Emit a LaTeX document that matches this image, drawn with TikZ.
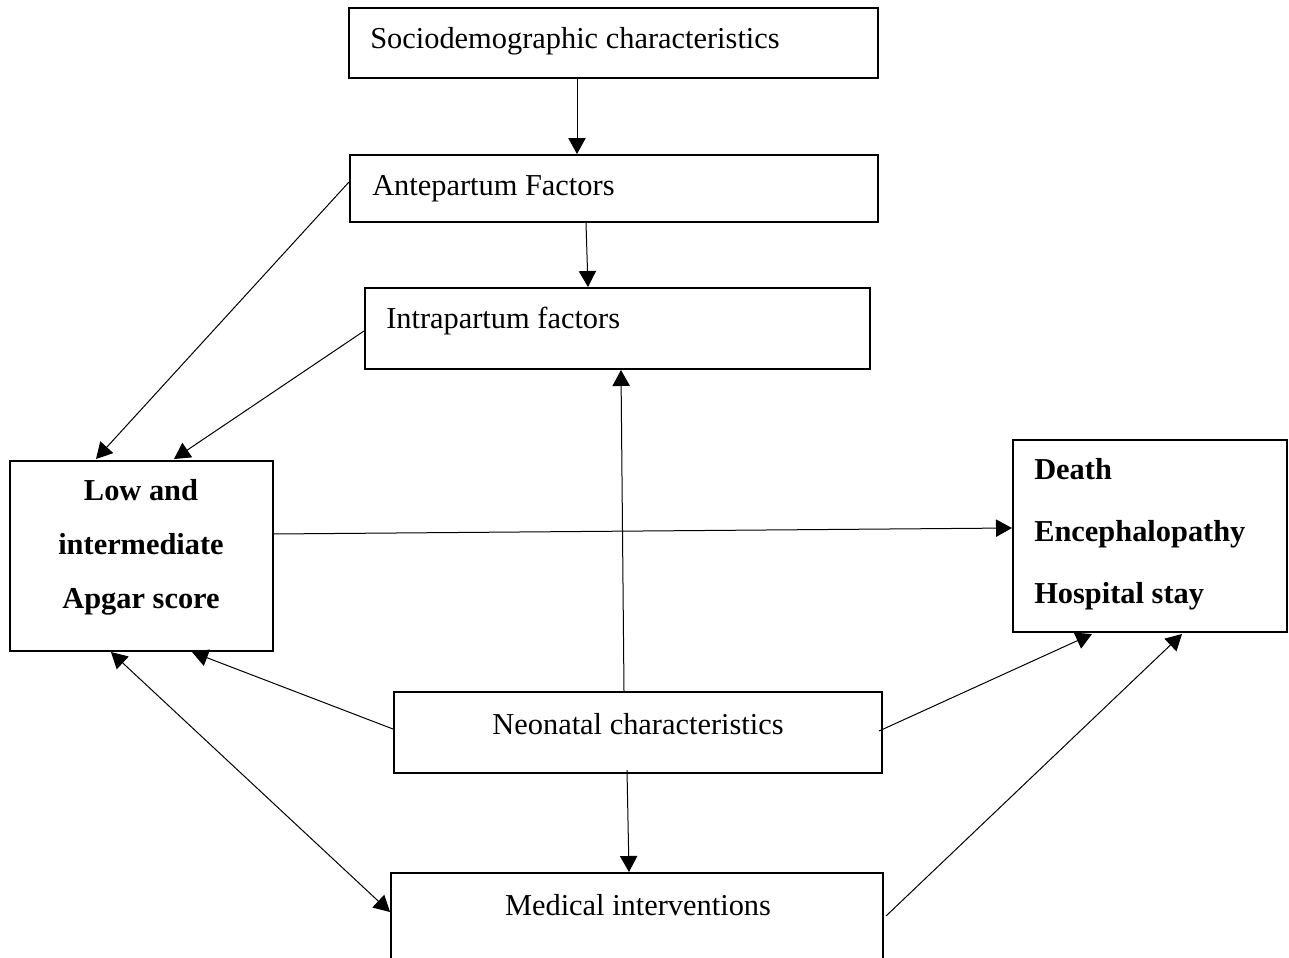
\documentclass[tikz,border=0pt]{standalone}
\usepackage{fontspec}
\setmainfont{Liberation Serif}
\usetikzlibrary{arrows.meta,calc,fit}
\begin{document}
\begin{tikzpicture}[x=0.75pt,y=-0.75pt,
  box/.style={draw,line width=1.5pt,inner sep=0pt},
  lbl/.style={inner sep=0pt,font=\fontsize{22.8}{27}\selectfont},
  conn/.style={line width=0.75pt,-{Triangle[length=12pt,width=13pt]}},
  dconn/.style={line width=0.75pt,{Triangle[length=12pt,width=13pt]}-{Triangle[length=12pt,width=13pt]}}]
\useasboundingbox (0,0) rectangle (1289,957);
% box corners
\coordinate (s1) at (349,8);   \coordinate (s2) at (878,78);
\coordinate (a1) at (350,155); \coordinate (a2) at (878,222);
\coordinate (i1) at (365,288); \coordinate (i2) at (870,369);
\coordinate (p1) at (10,461);  \coordinate (p2) at (273,651);
\coordinate (d1) at (1013,440);\coordinate (d2) at (1287,632);
\coordinate (n1) at (394,692); \coordinate (n2) at (882,773);
\coordinate (m1) at (391,873); \coordinate (m2) at (883,965);
\node[box,fit=(s1)(s2)] (socio) {};
\node[box,fit=(a1)(a2)] (ante) {};
\node[box,fit=(i1)(i2)] (intra) {};
\node[box,fit=(p1)(p2)] (apgar) {};
\node[box,fit=(d1)(d2)] (death) {};
\node[box,fit=(n1)(n2)] (neo) {};
\node[box,fit=(m1)(m2)] (med) {};
% texts
\node[lbl,anchor=west] (tsocio) at (370,41) {Sociodemographic characteristics};
\node[lbl,anchor=west] (tante) at (372,189) {Antepartum Factors};
\node[lbl,anchor=west] (tintra) at (386,321) {Intrapartum factors};
\node[lbl,align=center,font=\fontsize{22.8}{40.5}\selectfont\bfseries] (tapgar) at (141,547) {Low and\\intermediate\\Apgar score};
\node[lbl,align=left,anchor=west,font=\fontsize{22.8}{46.5}\selectfont\bfseries] (tdeath) at (1034,534) {Death\\Encephalopathy\\Hospital stay};
\node[lbl] (tneo) at (638,724) {Neonatal characteristics};
\node[lbl] (tmed) at (638,905) {Medical interventions};
% connectors
\draw[conn] ($(socio.south west)+(229,0)$) -- ($(ante.north west)+(228,0)$);
\draw[conn] ($(ante.south west)+(237,0)$) -- ($(intra.north west)+(224,0)$);
\draw[conn] ($(ante.north west)+(0,28)$) -- ($(apgar.north west)+(87,-1)$);
\draw[conn] ($(intra.north west)+(0,44)$) -- ($(apgar.north west)+(165,-1)$);
\draw[conn] ($(neo.north west)+(231,0)$) -- ($(intra.south west)+(257,0)$);
\draw[conn] ($(apgar.north west)+(263,74)$) -- ($(death.north west)+(0,89)$);
\draw[conn] ($(neo.north west)+(0,38)$) -- ($(apgar.south west)+(183,0)$);
\draw[conn] ($(neo.south west)+(234,-4)$) -- ($(med.north west)+(239,0)$);
\draw[conn] ($(neo.north east)+(-4,40)$) -- ($(death.south west)+(80,1)$);
\draw[dconn] ($(med.north west)+(0,40)$) -- ($(apgar.south west)+(102,0)$);
\draw[conn] ($(med.north east)+(2,44)$) -- ($(death.south west)+(170,1)$);
\end{tikzpicture}
\end{document}
